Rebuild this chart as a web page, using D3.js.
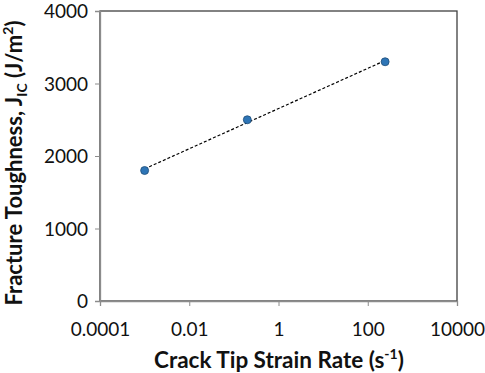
<!DOCTYPE html>
<html><head><meta charset="utf-8">
<script src="https://cdn.jsdelivr.net/npm/d3@7"></script>
<style>body{margin:0;background:#fff}text{font-family:Lato,"Open Sans",sans-serif}</style>
</head><body><svg id="c" width="485" height="373"></svg>
<script>
const strainRates = [0.001, 0.2, 245];
const toughness = [1800, 2500, 3300];
const xTicks = [0.0001, 0.01, 1, 100, 10000];
const xTickLabels = ["0.0001", "0.01", "1", "100", "10000"];
const yTicks = [0, 1000, 2000, 3000, 4000];

const svg = d3.select("#c");
const L = 100, R = 457, T = 11, B = 301;
const x = d3.scaleLog().domain([0.0001, 10000]).range([L, R]);
const y = d3.scaleLinear().domain([0, 4000]).range([B, T]);

// frame
svg.append("rect").attr("x", L).attr("y", T).attr("width", R - L).attr("height", B - T)
  .attr("fill", "none").attr("stroke", "#404040").attr("stroke-width", 1.3);

const xa = svg.append("g").attr("transform", `translate(0,${B})`)
  .call(d3.axisBottom(x).tickValues(xTicks).tickFormat((d, i) => xTickLabels[i]).tickSize(5).tickPadding(17));
const ya = svg.append("g").attr("transform", `translate(${L},0)`)
  .call(d3.axisLeft(y).tickValues(yTicks).tickFormat(d3.format("d")).tickSize(5).tickPadding(7));
[xa, ya].forEach(a => {
  a.select(".domain").attr("stroke", "#8c8c8c").attr("stroke-width", 1.3);
  a.selectAll(".tick line").attr("stroke", "#8c8c8c");
  a.selectAll("text").attr("font-size", 19).attr("fill", "#111").style("font-family", "Lato");
});
ya.selectAll("text").attr("dy", "0.36em");

// logarithmic trendline (least squares in ln x)
const lx = strainRates.map(Math.log);
const mx = d3.mean(lx), my = d3.mean(toughness);
const a = d3.sum(lx.map((v, i) => (v - mx) * (toughness[i] - my))) / d3.sum(lx.map(v => (v - mx) ** 2));
const b = my - a * mx;
const ext = d3.extent(strainRates);
const tl = d3.range(0, 51).map(i => Math.exp(Math.log(ext[0]) + (Math.log(ext[1]) - Math.log(ext[0])) * i / 50));
svg.append("path").datum(tl)
  .attr("d", d3.line().x(d => x(d)).y(d => y(a * Math.log(d) + b)))
  .attr("fill", "none").attr("stroke", "#000").attr("stroke-width", 1.2).attr("stroke-dasharray", "3,2");

svg.selectAll("circle").data(strainRates).join("circle")
  .attr("cx", d => x(d)).attr("cy", (d, i) => y(toughness[i])).attr("r", 4)
  .attr("fill", "#2e75b6").attr("stroke", "#1f4e79").attr("stroke-width", 0.8);

// axis titles
const xt = svg.append("text").attr("x", 279).attr("y", 368).attr("text-anchor", "middle")
  .attr("font-size", 22.5).attr("font-weight", "bold").attr("fill", "#111");
xt.append("tspan").text("Crack Tip Strain Rate (s");
xt.append("tspan").attr("font-size", 14).attr("dy", -9).text("-1");
xt.append("tspan").attr("dy", 9).text(")");

const yt = svg.append("text").attr("transform", "translate(22,163) rotate(-90)").attr("text-anchor", "middle")
  .attr("font-size", 22).attr("font-weight", "bold").attr("fill", "#111");
yt.append("tspan").text("Fracture Toughness, J");
yt.append("tspan").attr("font-size", 14).attr("dy", 5).text("IC");
yt.append("tspan").attr("dy", -5).text(" (J/m");
yt.append("tspan").attr("font-size", 14).attr("dy", -9).text("2");
yt.append("tspan").attr("dy", 9).text(")");
</script></body></html>
